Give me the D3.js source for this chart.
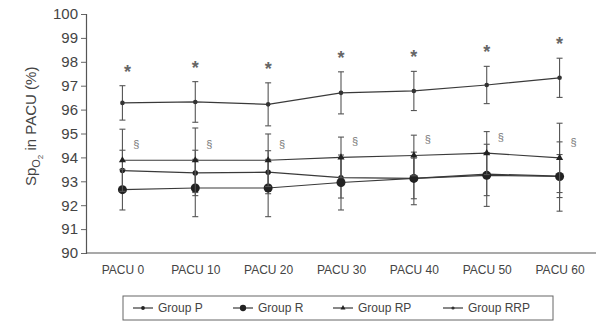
<!DOCTYPE html>
<html>
<head>
<meta charset="utf-8">
<script src="https://cdn.jsdelivr.net/npm/d3@7"></script>
<style>
  body { margin: 0; background: #fff; }
  text { font-family: "Liberation Sans", Arial, sans-serif; fill: #444; }
</style>
</head>
<body>
<div class="chart"></div>
<script>
// time points and series (means and SDs)
var timepoints = ["PACU 0", "PACU 10", "PACU 20", "PACU 30", "PACU 40", "PACU 50", "PACU 60"]
var yTicks = [90, 91, 92, 93, 94, 95, 96, 97, 98, 99, 100]

var groupP   = [93.45, 93.35, 93.38, 93.15, 93.12, 93.30, 93.22]
var groupR   = [92.65, 92.72, 92.72, 92.95, 93.12, 93.25, 93.20]
var groupRP  = [93.88, 93.88, 93.88, 94.00, 94.08, 94.18, 93.98]
var groupRRP = [96.28, 96.32, 96.22, 96.70, 96.78, 97.03, 97.33]

var sdP   = [0.85, 0.95, 0.90, 0.85, 0.85, 0.90, 0.90]
var sdR   = [0.85, 1.20, 1.20, 1.15, 1.10, 1.30, 1.45]
var sdRP  = [1.30, 1.35, 1.10, 0.85, 0.85, 0.90, 1.45]
var sdRRP = [0.72, 0.85, 0.90, 0.88, 0.82, 0.78, 0.82]

var groupNames = ["Group P", "Group R", "Group RP", "Group RRP"]

var width = 604,
    height = 324
var margin = {top: 14, right: 8, bottom: 71, left: 86}

var svg = d3.select(".chart")
  .append("svg")
    .attr("width", width)
    .attr("height", height)

var x = d3.scalePoint()
  .domain(timepoints)
  .range([margin.left, width - margin.right])
  .padding(0.5)

var y = d3.scaleLinear()
  .domain([90, 100])
  .range([height - margin.bottom, margin.top])

var ink = "#3a3a3a"

// y axis
var yAxis = svg.append("g")
  .attr("transform", "translate(" + margin.left + ",0)")
  .call(d3.axisLeft(y).tickValues(yTicks).tickSize(5).tickPadding(3).tickFormat(d3.format("d")))
yAxis.select(".domain").attr("stroke", "#555").attr("stroke-width", 1.2)
yAxis.selectAll(".tick line").attr("stroke", "#666")
yAxis.selectAll(".tick text").style("font-size", "15px").style("fill", "#444")

// x axis: just the base line and labels
var xAxis = svg.append("g")
  .attr("transform", "translate(0," + (height - margin.bottom) + ")")
  .call(d3.axisBottom(x).tickSize(0).tickPadding(12))
xAxis.select(".domain").attr("d", "M" + margin.left + ",0H" + (width - margin.right))
  .attr("stroke", "#555").attr("stroke-width", 1.2)
xAxis.selectAll(".tick text").style("font-size", "12px").style("fill", "#444")

// y axis title with subscripts
var title = svg.append("text")
  .attr("transform", "translate(36," + y(95.3) + ") rotate(-90)")
  .attr("text-anchor", "middle")
  .style("font-size", "15px")
title.append("tspan").text("Sp")
title.append("tspan").attr("dy", 4).style("font-size", "11px").text("O")
title.append("tspan").attr("dy", 3).style("font-size", "8px").text("2")
title.append("tspan").attr("dy", -7).text(" in PACU (%)")

var series = [
  {name: "Group P", mean: groupP, sd: sdP, marker: "plus"},
  {name: "Group R", mean: groupR, sd: sdR, marker: "big"},
  {name: "Group RP", mean: groupRP, sd: sdRP, marker: "tri"},
  {name: "Group RRP", mean: groupRRP, sd: sdRRP, marker: "dot"}
]

var line = d3.line()
  .x(function(d, i) { return x(timepoints[i]) })
  .y(function(d) { return y(d) })

function drawMarker(g, type, cx, cy, k) {
  k = k || 1
  if (type == "big") {
    g.append("circle").attr("cx", cx).attr("cy", cy).attr("r", 4.5 * k).attr("fill", "#222")
  } else if (type == "tri") {
    g.append("path").attr("d", d3.symbol().type(d3.symbolTriangle).size(22 * k * k)())
      .attr("transform", "translate(" + cx + "," + cy + ")").attr("fill", "#222")
  } else if (type == "plus") {
    g.append("circle").attr("cx", cx).attr("cy", cy).attr("r", 2.7 * k).attr("fill", "#222")
  } else {
    g.append("circle").attr("cx", cx).attr("cy", cy).attr("r", 2.3 * k).attr("fill", "#333")
  }
}

series.forEach(function(s) {
  var g = svg.append("g")
  // error bars
  s.mean.forEach(function(m, i) {
    var cx = x(timepoints[i])
    g.append("line")
      .attr("x1", cx).attr("x2", cx)
      .attr("y1", y(m + s.sd[i])).attr("y2", y(m - s.sd[i]))
      .attr("stroke", "#555").attr("stroke-width", 1.1)
    ;[m + s.sd[i], m - s.sd[i]].forEach(function(v) {
      g.append("line")
        .attr("x1", cx - 3).attr("x2", cx + 3)
        .attr("y1", y(v)).attr("y2", y(v))
        .attr("stroke", "#555").attr("stroke-width", 1.1)
    })
  })
  g.append("path")
    .datum(s.mean)
    .attr("d", line)
    .attr("fill", "none")
    .attr("stroke", ink)
    .attr("stroke-width", 1.2)
  s.mean.forEach(function(m, i) {
    drawMarker(g, s.marker, x(timepoints[i]), y(m))
  })
})

// significance marks
groupRRP.forEach(function(m, i) {
  svg.append("text")
    .attr("x", x(timepoints[i]) + (i == 0 ? 5 : 0))
    .attr("y", y(m + sdRRP[i]) - 8)
    .attr("text-anchor", "middle")
    .style("font-size", "18px")
    .style("font-weight", "bold")
    .style("fill", "#666")
    .text("*")
})
groupRP.forEach(function(m, i) {
  svg.append("text")
    .attr("x", x(timepoints[i]) + 14)
    .attr("y", y(m) - 12)
    .attr("text-anchor", "middle")
    .style("font-size", "11px")
    .style("fill", "#777")
    .text("§")
})

// legend
var legend = svg.append("g")
legend.append("rect")
  .attr("x", 123).attr("y", 296)
  .attr("width", 430).attr("height", 24)
  .attr("fill", "none").attr("stroke", "#666").attr("stroke-width", 1)

var legendX = [133, 233, 333, 443]
series.forEach(function(s, i) {
  var lx = legendX[i], ly = 308
  legend.append("line")
    .attr("x1", lx).attr("x2", lx + 20)
    .attr("y1", ly).attr("y2", ly)
    .attr("stroke", ink).attr("stroke-width", 1.2)
  drawMarker(legend, s.marker, lx + 10, ly, 0.7)
  legend.append("text")
    .attr("x", lx + 25).attr("y", ly + 4)
    .style("font-size", "12px")
    .text(s.name)
})
</script>
</body>
</html>
